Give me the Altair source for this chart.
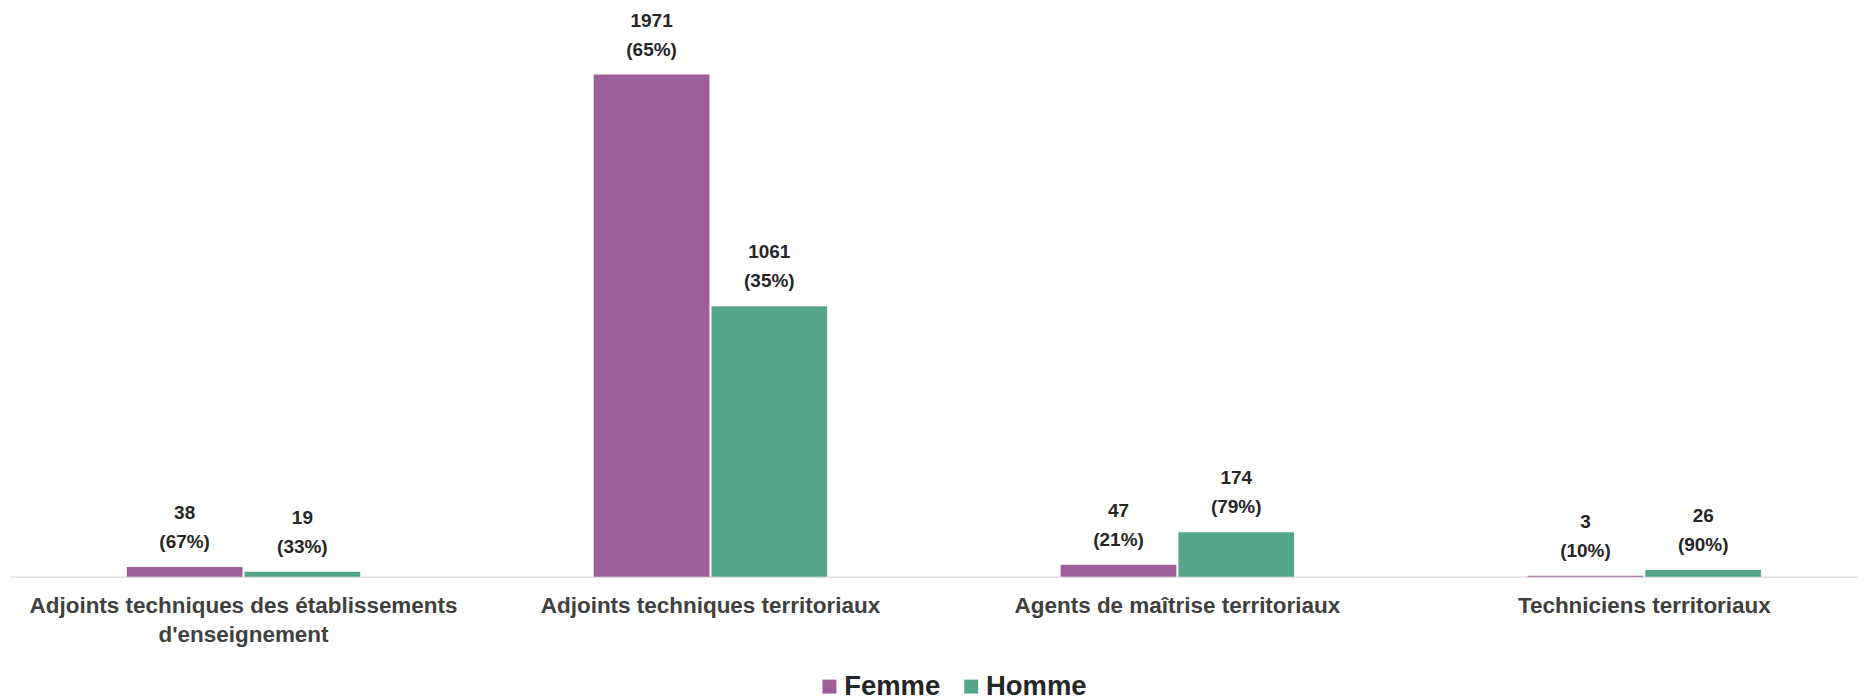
import altair as alt
import pandas as pd

categories = [
    "Adjoints techniques des établissements d'enseignement",
    "Adjoints techniques territoriaux",
    "Agents de maîtrise territoriaux",
    "Techniciens territoriaux",
]
series = ["Femme", "Homme"]
femme = [38, 1971, 47, 3]
homme = [19, 1061, 174, 26]
femme_pct = [67, 65, 21, 10]
homme_pct = [33, 35, 79, 90]
colors = ["#9E5E9A", "#55A58B"]

rows = []
for i, c in enumerate(categories):
    rows.append(dict(cat=c, sexe="Femme", val=femme[i], pct=femme_pct[i]))
    rows.append(dict(cat=c, sexe="Homme", val=homme[i], pct=homme_pct[i]))
df = pd.DataFrame(rows)
df["label"] = df["val"].astype(str) + "\n(" + df["pct"].astype(str) + "%)"

FONT = "Liberation Sans"
W, H = 1850, 569

label_expr = (
    "length(datum.value) > 40 ? "
    "[slice(datum.value, 0, lastindexof(datum.value, ' ')), "
    "slice(datum.value, lastindexof(datum.value, ' ') + 1)] : datum.value"
)

x = alt.X(
    "cat:N",
    sort=categories,
    title=None,
    scale=alt.Scale(paddingInner=0.5, paddingOuter=0.2278, align=0.549),
    axis=alt.Axis(
        labelAngle=0,
        ticks=False,
        domainColor="#D9D9D9",
        domainWidth=1.3,
        labelFont=FONT,
        labelFontSize=22.5,
        labelFontWeight="bold",
        labelColor="#404040",
        labelPadding=18,
        labelLineHeight=29,
        labelLimit=0,
        labelExpr=label_expr,
    ),
)
xo = alt.XOffset("sexe:N", sort=series, scale=alt.Scale(paddingInner=0.017))
y = alt.Y("val:Q", scale=alt.Scale(domain=[0, 2230], nice=False), axis=None)
color = alt.Color(
    "sexe:N",
    scale=alt.Scale(domain=series, range=colors),
    legend=alt.Legend(
        title=None,
        orient="none",
        legendX=807,
        legendY=665,
        direction="horizontal",
        symbolType="square",
        symbolSize=196,
        symbolStrokeWidth=0,
        symbolOpacity=1,
        labelFont=FONT,
        labelFontSize=27.5,
        labelFontWeight="bold",
        labelColor="#262626",
        labelOffset=1,
        columnPadding=17,
        labelLimit=0,
    ),
)

bars = alt.Chart(df).mark_bar().encode(x=x, xOffset=xo, y=y, color=color)
text = (
    alt.Chart(df)
    .mark_text(
        baseline="bottom",
        dy=-44,
        lineBreak="\n",
        lineHeight=29,
        fontSize=19,
        fontWeight="bold",
        color="#262626",
        font=FONT,
    )
    .encode(x=x, xOffset=xo, y=y, text="label:N")
)

chart = (
    (bars + text)
    .properties(
        width=W,
        height=H,
        padding={"left": 2, "top": 0, "right": 0, "bottom": 123},
        autosize=alt.AutoSizeParams(type="none"),
    )
    .configure_view(stroke=None)
    .configure_axis(grid=False)
)

chart.save("out.html", embed_options={"renderer": "svg", "actions": False})
